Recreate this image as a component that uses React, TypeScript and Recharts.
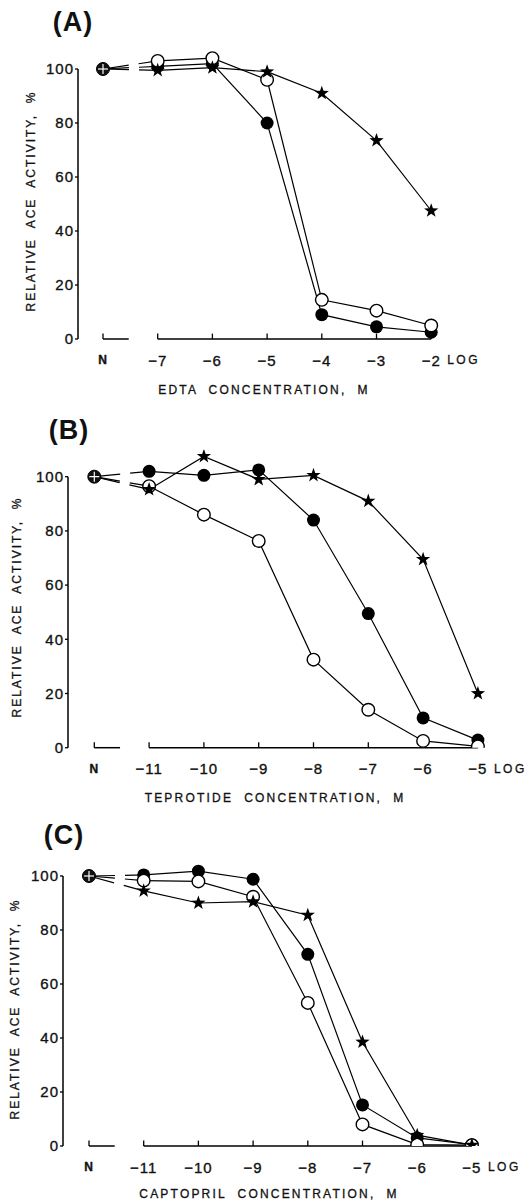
import { ComposedChart, Line, ReferenceLine, XAxis, YAxis } from "recharts";

const FONT = "'Liberation Sans', Arial, sans-serif";

// (A) EDTA
const edtaDoses = ["N", -7, -6, -5, -4, -3, -2];
const edtaFilled = [100, 101, 102, 80, 9, 4.5, 2.5];
const edtaOpen = [100, 103, 104, 96, 14.5, 10.5, 5];
const edtaStar = [100, 99.5, 100.5, 99, 91, 73.5, 47.5];

// (B) teprotide
const teproDoses = ["N", -11, -10, -9, -8, -7, -6, -5];
const teproFilled = [100, 102, 100.5, 102.5, 84, 49.5, 11, 2.8];
const teproOpen = [100, 96.5, 86, 76.3, 32.5, 14, 2.5, 0.5];
const teproStar = [100, 95.3, 107.5, 99, 100.5, 91, 69.5, 20];

// (C) captopril
const captoDoses = ["N", -11, -10, -9, -8, -7, -6, -5];
const captoFilled = [100, 100.4, 101.8, 98.8, 71, 15.2, 3, 0.5];
const captoOpen = [100, 98.3, 98, 92.3, 53, 8, 0.5, 0.3];
const captoStar = [100, 94.5, 90, 90.5, 85.5, 38.5, 4, 0.3];

const yTicks = [0, 20, 40, 60, 80, 100];

type Layout = {
  top: number;
  height: number;
  axisX: number;
  nX: number;
  unit: number;
  plotRight: number;
  y100: number;
  y0: number;
};

function starPath(cx: number, cy: number, ro: number, ri: number) {
  let d = "";
  for (let i = 0; i < 10; i++) {
    const r = i % 2 === 0 ? ro : ri;
    const a = -Math.PI / 2 + (i * Math.PI) / 5;
    d += (i === 0 ? "M" : "L") + (cx + r * Math.cos(a)).toFixed(2) + "," + (cy + r * Math.sin(a)).toFixed(2);
  }
  return d + "Z";
}

const makeDot = (kind: string) => (props: any) => {
  const { cx, cy, index, payload } = props;
  if (cx == null || cy == null || payload.n) return <g key={index} />;
  if (kind === "filled") return <circle key={index} cx={cx} cy={cy} r={6.5} fill="#000" />;
  if (kind === "open")
    return <circle key={index} cx={cx} cy={cy} r={6.3} fill="#fff" stroke="#000" strokeWidth={1.4} />;
  return <path key={index} d={starPath(cx, cy, 7.5, 3)} fill="#000" />;
};

const nDot = (props: any) => {
  const { cx, cy, index } = props;
  if (cx == null || cy == null) return <g key={index} />;
  return (
    <g key={index}>
      <circle cx={cx} cy={cy} r={6.5} fill="#111" stroke="#000" strokeWidth={1} />
      <line x1={cx - 5} y1={cy} x2={cx + 5} y2={cy} stroke="#fff" strokeWidth={1.2} />
      <line x1={cx} y1={cy - 5} x2={cx} y2={cy + 5} stroke="#fff" strokeWidth={1.2} />
    </g>
  );
};

function Panel({
  layout,
  doses,
  filled,
  open,
  star,
}: {
  layout: Layout;
  doses: (string | number)[];
  filled: number[];
  open: number[];
  star: number[];
}) {
  const { top, height, axisX, nX, unit, plotRight, y100, y0 } = layout;
  const first = doses[1] as number;
  const last = doses[doses.length - 1] as number;
  const nPos = first - 1;
  const xMin = nPos - (nX - axisX) / unit;
  const xMax = xMin + (plotRight - axisX) / unit;
  const y110 = y0 - 1.1 * (y0 - y100);
  const xAxisH = 30;
  const toRows = (vals: number[]) =>
    doses.map((d, i) => ({ x: d === "N" ? nPos : (d as number), v: vals[i], n: d === "N" }));
  const series = [
    { kind: "filled", rows: toRows(filled) },
    { kind: "open", rows: toRows(open) },
    { kind: "star", rows: toRows(star) },
  ];
  const ticks = [nPos, ...(doses.slice(1) as number[])];
  const intTicks = doses.slice(1) as number[];

  const XTick = (p: any) => {
    const v = p.payload.value;
    const isN = v === nPos;
    const label = isN ? "N" : "\u2212" + Math.abs(v);
    return (
      <g>
        <text
          x={p.x}
          y={p.y + 21}
          textAnchor="middle"
          dominantBaseline="central"
          fontFamily={FONT}
          fontSize={isN ? 12 : 15}
          fontWeight={isN ? "bold" : "normal"}
          letterSpacing={1}
          fill="#111"
          stroke="#111"
          strokeWidth={0.35}
        >
          {label}
        </text>
        {v === last && (
          <text
            x={p.x + 16}
            y={p.y + 21}
            textAnchor="start"
            dominantBaseline="central"
            fontFamily={FONT}
            fontSize={12}
            letterSpacing={2.5}
            fill="#111"
            stroke="#111"
            strokeWidth={0.3}
          >
            LOG
          </text>
        )}
      </g>
    );
  };

  return (
    <div style={{ position: "absolute", left: 0, top }}>
      <ComposedChart
        width={528}
        height={height}
        margin={{ top: y110 - top, right: 528 - plotRight, bottom: top + height - y0 - xAxisH, left: 0 }}
      >
        <XAxis
          dataKey="x"
          type="number"
          domain={[xMin, xMax]}
          allowDataOverflow
          ticks={ticks}
          tick={XTick}
          tickLine={false}
          axisLine={false}
          tickSize={0}
          tickMargin={0}
          height={xAxisH}
          interval={0}
        />
        <YAxis
          type="number"
          domain={[0, 110]}
          allowDataOverflow
          ticks={yTicks}
          width={axisX}
          axisLine={false}
          tickLine={{ stroke: "#000", strokeWidth: 1.3 }}
          tickSize={3}
          tickMargin={1}
          tick={{ fill: "#111", stroke: "#111", strokeWidth: 0.35, fontSize: 15, fontFamily: FONT, letterSpacing: 1 }}
          interval={0}
        />
        {/* broken axes */}
        <ReferenceLine segment={[{ x: xMin, y: 0 }, { x: xMin, y: 100 }]} stroke="#000" strokeWidth={1.5} />
        <ReferenceLine segment={[{ x: nPos, y: 0 }, { x: nPos + 0.47, y: 0 }]} stroke="#000" strokeWidth={1.5} />
        <ReferenceLine segment={[{ x: nPos, y: 0 }, { x: nPos, y: 2 }]} stroke="#000" strokeWidth={1.3} />
        <ReferenceLine segment={[{ x: first, y: 0 }, { x: last, y: 0 }]} stroke="#000" strokeWidth={1.5} />
        {intTicks.map((t) => (
          <ReferenceLine key={t} segment={[{ x: t, y: 0 }, { x: t, y: 2 }]} stroke="#000" strokeWidth={1.3} />
        ))}
        {series.map((s) => (
          <Line
            key={s.kind + "-dash"}
            data={s.rows.slice(0, 2)}
            dataKey="v"
            type="linear"
            stroke="#000"
            strokeWidth={1.2}
            strokeDasharray="26 10 60"
            dot={false}
            activeDot={false}
            isAnimationActive={false}
          />
        ))}
        {series.map((s) => (
          <Line
            key={s.kind + "-line"}
            data={s.rows.slice(1)}
            dataKey="v"
            type="linear"
            stroke="#000"
            strokeWidth={1.2}
            dot={false}
            activeDot={false}
            isAnimationActive={false}
          />
        ))}
        {series.map((s) => (
          <Line
            key={s.kind + "-dots"}
            data={s.rows}
            dataKey="v"
            type="linear"
            stroke="none"
            dot={makeDot(s.kind)}
            activeDot={false}
            isAnimationActive={false}
          />
        ))}
        <Line
          data={series[0].rows.slice(0, 1)}
          dataKey="v"
          stroke="none"
          dot={nDot}
          activeDot={false}
          isAnimationActive={false}
        />
      </ComposedChart>
    </div>
  );
}

const textStyle: React.CSSProperties = {
  position: "absolute",
  fontFamily: FONT,
  color: "#111",
  whiteSpace: "pre",
  lineHeight: 1,
};

function Caption({ x, y, text, size, spacing, weight = "normal", rotate = false }: any) {
  return (
    <div
      style={{
        ...textStyle,
        left: x,
        top: y,
        fontSize: size,
        letterSpacing: spacing,
        fontWeight: weight,
        WebkitTextStroke: weight === "normal" ? "0.3px #111" : undefined,
        transform: `translate(-50%, -50%)${rotate ? " rotate(-90deg)" : ""}`,
      }}
    >
      {text}
    </div>
  );
}

export default function App() {
  return (
    <div style={{ position: "absolute", left: 0, top: 0, width: 528, height: 1203, background: "#fff", overflow: "hidden" }}>
      <Panel
        layout={{ top: 0, height: 400, axisX: 78, nX: 103, unit: 54.7, plotRight: 458, y100: 69, y0: 339 }}
        doses={edtaDoses}
        filled={edtaFilled}
        open={edtaOpen}
        star={edtaStar}
      />
      <Panel
        layout={{ top: 400, height: 400, axisX: 68, nX: 94.3, unit: 54.8, plotRight: 505, y100: 476.7, y0: 747.7 }}
        doses={teproDoses}
        filled={teproFilled}
        open={teproOpen}
        star={teproStar}
      />
      <Panel
        layout={{ top: 800, height: 403, axisX: 63, nX: 89, unit: 54.7, plotRight: 500, y100: 876, y0: 1146 }}
        doses={captoDoses}
        filled={captoFilled}
        open={captoOpen}
        star={captoStar}
      />

      <Caption x={73} y={22} text="(A)" size={27} spacing={1} weight="bold" />
      <Caption x={69} y={430} text="(B)" size={27} spacing={1} weight="bold" />
      <Caption x={64} y={835} text="(C)" size={27} spacing={1} weight="bold" />

      <Caption x={264} y={390} text={"EDTA  CONCENTRATION,  M"} size={12} spacing={2.2} />
      <Caption x={275} y={798} text={"TEPROTIDE  CONCENTRATION,  M"} size={12} spacing={2.2} />
      <Caption x={269} y={1194} text={"CAPTOPRIL  CONCENTRATION,  M"} size={12} spacing={2.2} />

      <Caption x={31} y={201} text={"RELATIVE  ACE  ACTIVITY,  %"} size={12} spacing={2} rotate />
      <Caption x={17} y={607} text={"RELATIVE  ACE  ACTIVITY,  %"} size={12} spacing={2} rotate />
      <Caption x={15} y={1009} text={"RELATIVE  ACE  ACTIVITY,  %"} size={12} spacing={2} rotate />
    </div>
  );
}
